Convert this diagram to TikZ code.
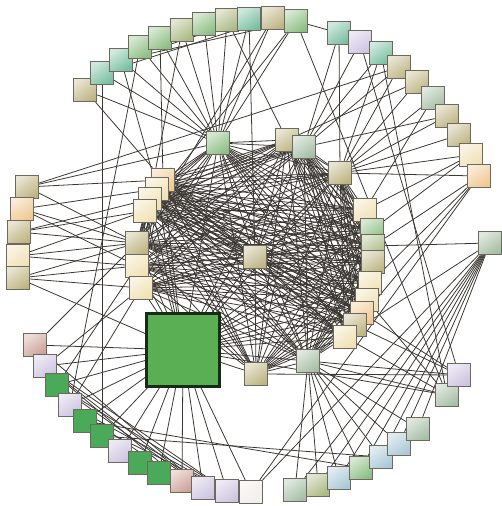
\documentclass[tikz,border=0pt]{standalone}
\usetikzlibrary{backgrounds}
\definecolor{olv}{RGB}{190,180,130}
\definecolor{olvg}{RGB}{170,185,130}
\definecolor{grn}{RGB}{140,190,130}
\definecolor{teal}{RGB}{120,190,160}
\definecolor{tealg}{RGB}{165,190,165}
\definecolor{crm}{RGB}{240,225,180}
\definecolor{pch}{RGB}{240,200,145}
\definecolor{lav}{RGB}{205,195,225}
\definecolor{pnk}{RGB}{205,160,150}
\definecolor{wht}{RGB}{240,238,235}
\definecolor{lblu}{RGB}{170,200,215}
\definecolor{sgrn}{RGB}{75,170,90}
\definecolor{bigg}{RGB}{90,175,85}
\definecolor{sqedge}{RGB}{110,105,95}
\definecolor{wirec}{RGB}{60,55,50}
\tikzset{
  sq/.style={draw=sqedge, line width=0.5pt, minimum size=0.47cm, inner sep=0pt,
    top color=#1!35!white, bottom color=#1, shading angle=35},
  sqs/.style={draw=sqedge, line width=0.5pt, minimum size=0.47cm, inner sep=0pt, fill=#1},
  wire/.style={draw=wirec, line width=0.45pt}
}
\begin{document}
\begin{tikzpicture}[x=0.02cm, y=-0.02cm]
                \useasboundingbox (0,0) rectangle (502,506);
                % top arc
                \node[sq=olv] (t1) at (85,90) {};
                \node[sq=teal] (t2) at (102,73) {};
                \node[sq=teal] (t3) at (121,60) {};
                \node[sq=grn] (t4) at (140,47) {};
                \node[sq=grn] (t5) at (160,38) {};
                \node[sq=olvg] (t6) at (182,30) {};
                \node[sq=grn] (t7) at (204,24) {};
                \node[sq=olvg] (t8) at (227,20) {};
                \node[sq=teal] (t9) at (249,19) {};
                \node[sq=olv] (t10) at (273,18) {};
                \node[sq=grn] (t11) at (296,21) {};
                % right arc
                \node[sq=teal] (r1) at (339,33) {};
                \node[sq=lav] (r2) at (360,42) {};
                \node[sq=teal] (r3) at (381,53) {};
                \node[sq=olv] (r4) at (399,67) {};
                \node[sq=olv] (r5) at (417,82) {};
                \node[sq=tealg] (r6) at (433,98) {};
                \node[sq=olv] (r7) at (447,116) {};
                \node[sq=olv] (r8) at (459,135) {};
                \node[sq=crm] (r9) at (471,155) {};
                \node[sq=pch] (r10) at (479,176) {};
                \node[sq=tealg] (x1) at (490,243) {};
                % left column
                \node[sq=olv] (l1) at (27,187) {};
                \node[sq=pch] (l2) at (22,209) {};
                \node[sq=olv] (l3) at (19,232) {};
                \node[sq=crm] (l4) at (18,256) {};
                \node[sq=olv] (l5) at (18,278) {};
                % lower left arc
                \node[sq=pnk] (b1) at (35,345) {};
                \node[sq=lav] (b2) at (45,366) {};
                \node[sqs=sgrn] (b3) at (57,385) {};
                \node[sq=lav] (b4) at (70,405) {};
                \node[sqs=sgrn] (b5) at (85,421) {};
                \node[sqs=sgrn] (b6) at (102,436) {};
                \node[sq=lav] (b7) at (120,451) {};
                \node[sqs=sgrn] (b8) at (140,463) {};
                \node[sqs=sgrn] (b9) at (159,473) {};
                \node[sq=pnk] (b10) at (182,481) {};
                \node[sq=lav] (b11) at (203,488) {};
                \node[sq=lav] (b12) at (227,491) {};
                \node[sq=wht] (b13) at (251,492) {};
                % lower right arc
                \node[sq=tealg] (d2) at (295,490) {};
                \node[sq=olvg] (d3) at (318,485) {};
                \node[sq=lblu] (d4) at (339,478) {};
                \node[sq=grn] (d5) at (361,468) {};
                \node[sq=lblu] (d6) at (381,457) {};
                \node[sq=lblu] (d7) at (399,444) {};
                \node[sq=tealg] (d8) at (418,429) {};
                \node[sq=tealg] (d9) at (447,395) {};
                \node[sq=lav] (d10) at (459,375) {};
                % inner ring
                \node[sq=grn] (c1) at (218,143) {};
                \node[sq=olv] (c2) at (287,140) {};
                \node[sq=tealg] (c3) at (304,147) {};
                \node[sq=olv] (c4) at (340,173) {};
                \node[sq=crm] (c5) at (365,210) {};
                \node[sq=grn] (c6) at (372,230) {};
                \node[sq=olvg] (c7) at (373,246) {};
                \node[sq=olv] (c8) at (373,262) {};
                \node[sq=crm] (c9) at (370,283) {};
                \node[sq=crm] (c10) at (367,300) {};
                \node[sq=pch] (c11) at (362,313) {};
                \node[sq=olv] (c12) at (355,325) {};
                \node[sq=crm] (c13) at (345,337) {};
                \node[sq=tealg] (c14) at (308,361) {};
                \node[sq=olv] (c15) at (256,374) {};
                \node[sq=pch] (c16) at (163,180) {};
                \node[sq=crm] (c17) at (157,189) {};
                \node[sq=crm] (c18) at (150,199) {};
                \node[sq=crm] (c19) at (145,211) {};
                \node[sq=olv] (c20) at (137,243) {};
                \node[sq=crm] (c21) at (137,266) {};
                \node[sq=crm] (c22) at (141,288) {};
                \node[sq=olv] (c23) at (255,257) {};
                \node[draw=black!75!bigg, line width=1.2pt, fill=bigg, minimum size=1.46cm, inner sep=0pt] (big) at (183,350) {};
                \begin{scope}[on background layer]
                    % dense mesh of the ring
                    \foreach \i in {1,...,22}{
                        \pgfmathtruncatemacro\nxt{\i+1}
                        \foreach \j in {\nxt,...,23}{\draw[wire] (c\i) -- (c\j);}
                    }
                    \foreach \i in {1,...,23}{\draw[wire] (big) -- (c\i);}
                    % top and right arcs
                    \foreach \a/\b in {t1/c1,t2/c1,t3/c1,t4/c1,t5/c1,t6/c1,t7/c1,t8/c1,t9/c1,t10/c1,t11/c1,
                        t1/c16,t2/b6,t4/b4,t3/c17,t5/c16,t6/c18,t10/c20,t11/c19,t9/c23,t8/c2,
                        t3/t9,t4/t10,t3/t11,t2/t10,t5/t11,t4/t9,t11/r1,t11/d9,
                        r1/c3,r2/c3,r3/c3,r4/c3,r5/c2,r1/c4,r3/c4,r4/c4,r5/c4,r6/c4,r7/c4,r8/c4,r9/c4,r10/c4,
                        r2/d10,r3/d9,l1/r4,r9/c5,r9/c6,r10/c7,r10/c9,r10/c12,r10/b13,r6/c5,r7/c3}
                        {\draw[wire] (\a) -- (\b);}
                    % left side
                    \foreach \a/\b in {l1/c1,l1/c16,l1/c20,l2/c17,l2/c20,l2/c21,l3/c18,l3/c19,l3/c20,
                        l4/c19,l4/c20,l4/c21,l5/c20,l5/c21,l5/c22,l5/big}
                        {\draw[wire] (\a) -- (\b);}
                    % lower arcs
                    \foreach \a/\b in {b1/big,b2/big,b3/big,b4/big,b5/big,b6/big,b7/big,b8/big,b9/big,
                        b10/big,b11/big,b12/big,b13/big,b2/b10,b2/b11,b2/b12,b3/b11,b3/b12,b4/b12,
                        b1/b11,b4/b10,b5/b12,b6/d6,b5/d5,b2/c22,b3/c21,b1/c20,b4/c22,
                        c14/d2,c14/d3,c14/d4,c14/d5,c14/d6,c14/d7,c14/d8,c14/d9,c14/d10,
                        x1/d2,x1/d3,x1/d4,x1/d5,x1/d6,x1/d7,x1/d8,x1/b13,x1/c13,x1/c7,
                        c11/d10,c12/d10,c13/d9,c10/d9,c15/d10,big/d9}
                        {\draw[wire] (\a) -- (\b);}
                \end{scope}
            \end{tikzpicture}
\end{document}
